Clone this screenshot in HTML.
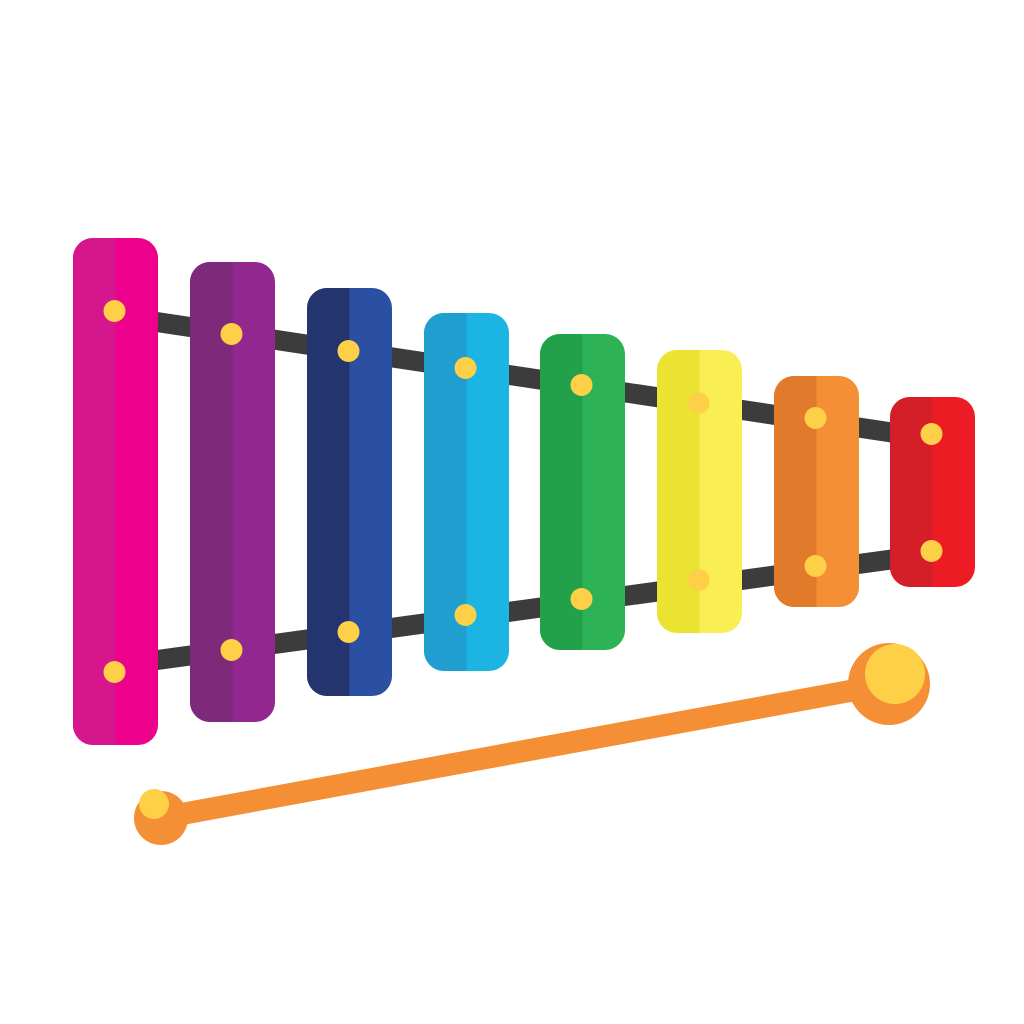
<!DOCTYPE html>
<html><head><meta charset="utf-8"><style>html,body{margin:0;padding:0;background:#fff}svg{display:block}</style></head>
<body>
<svg id="xy" width="1024" height="1024" viewBox="0 0 1024 1024">
<g>
<line x1="150" y1="321" x2="895" y2="433" stroke="#3c3c3c" stroke-width="20"/>
<line x1="150" y1="661" x2="895" y2="559" stroke="#3c3c3c" stroke-width="20"/>
</g>
<g id="bars"></g>
<g>
<line x1="160" y1="818" x2="888" y2="684" stroke="#f58f35" stroke-width="22" stroke-linecap="round"/>
<circle cx="889" cy="684" r="41" fill="#f58f35"/>
<circle cx="895" cy="674" r="30" fill="#fdd047"/>
<circle cx="161" cy="818" r="27" fill="#f58f35"/>
<circle cx="154" cy="804" r="15" fill="#fdd047"/>
</g>
</svg>
<script>
const barLeft=[73,190,307,424,540,657,774,890];
const barTop=[238,262,288,313,334,350,376,397];
const barBottom=[745,722,696,671,650,633,607,587];
const dotTop=[311,334,351,368,385,403,418,434];
const dotBottom=[672,650,632,615,599,580,566,551];
const light=['#ec008c','#92278f','#2b4fa1','#1cb5e3','#2db256','#f9ef55','#f58f35','#ed1c24'];
const dark=['#d6168c','#7d2a7a','#24346f','#1f9ecf','#22a04a','#ebe332','#e27a2b','#d41f29'];
const NS='http://www.w3.org/2000/svg';
const g=document.getElementById('bars');
const W=85;
function mk(tag,attrs){const e=document.createElementNS(NS,tag);for(const k in attrs)e.setAttribute(k,attrs[k]);return e;}
for(let i=0;i<barLeft.length;i++){
  const bg=mk('g',{});
  
  
  const x=barLeft[i],y=barTop[i],h=barBottom[i]-barTop[i];
  const cp=mk('clipPath',{id:'c'+i});
  cp.appendChild(mk('rect',{x:x,y:y,width:W,height:h,rx:20}));
  bg.appendChild(cp);
  const r1=mk('rect',{x:x,y:y,width:W,height:h,rx:20,fill:light[i]});
  
  
  bg.appendChild(r1);
  const r2=mk('rect',{x:x,y:y,width:W/2,height:h,fill:dark[i],'clip-path':'url(#c'+i+')'});
  
  
  bg.appendChild(r2);
  const cx=x+W/2-1;
  const d1=mk('circle',{cx:cx,cy:dotTop[i],r:11,fill:'#fdd047'});
  
  
  bg.appendChild(d1);
  const d2=mk('circle',{cx:cx,cy:dotBottom[i],r:11,fill:'#fdd047'});
  
  
  bg.appendChild(d2);
  g.appendChild(bg);
}
</script>
</body></html>
